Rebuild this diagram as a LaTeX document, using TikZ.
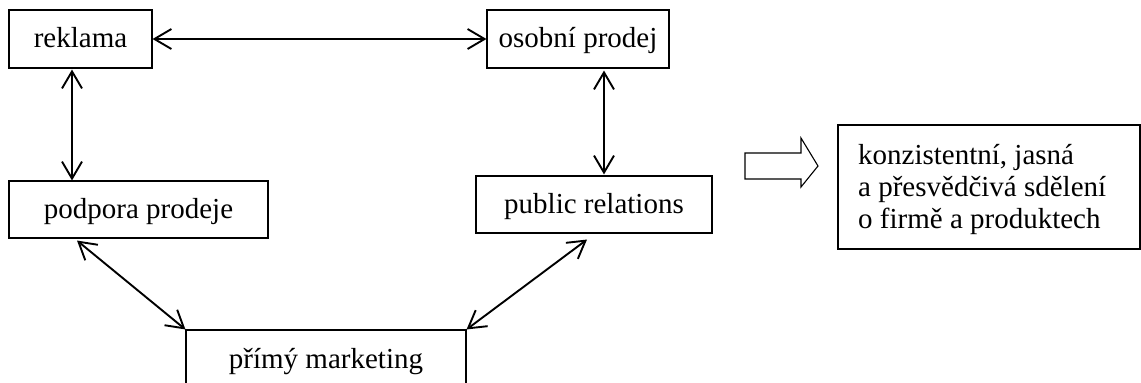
\documentclass[tikz,border=0pt]{standalone}
\usepackage{fontspec}
\setmainfont{Liberation Serif}
\usetikzlibrary{arrows.meta,calc}
\begin{document}
\begin{tikzpicture}[x=1pt,y=-1pt,
  box/.style={draw, line width=1.1pt, inner sep=0pt, text height=20pt, text depth=3pt,
    font=\fontsize{29}{32}\selectfont},
  link/.style={line width=1.9pt, {Straight Barb[length=17pt,width=20pt,line width=1.9pt]}-{Straight Barb[length=17pt,width=20pt,line width=1.9pt]}}]
\useasboundingbox (0,0) rectangle (1141,383);
\clip (0,0) rectangle (1141,383);
\node[box, minimum width=143pt, minimum height=58pt] (rek) at (80.5,39) {reklama};
\node[box, minimum width=182pt, minimum height=58pt] (oso) at (578,39) {osobní prodej};
\node[box, minimum width=259pt, minimum height=57pt] (pod) at (138.5,209.5) {podpora prodeje};
\node[box, minimum width=236pt, minimum height=57pt] (pr) at (594,204.5) {public relations};
\node[box, minimum width=280pt, minimum height=59pt] (pm) at (326,359.5) {přímý marketing};
\node[draw, line width=1.1pt, inner sep=0pt, minimum width=302pt, minimum height=124pt] (res) at (989,187) {};
\node[anchor=north west, inner sep=0pt, align=left, font=\fontsize{29}{32}\selectfont] (restext) at (858,144)
  {konzistentní, jasná\\a přesvědčivá sdělení\\o firmě a produktech};
% hollow arrow
\draw[line width=1.1pt] (745,153) -- (801,153) -- (801,138) -- (818,166) -- (801,187) -- (801,179) -- (745,179) -- cycle;
\coordinate (c1) at (72,0);
\coordinate (c2) at (604,0);
\coordinate (c3) at (77,0);
\coordinate (c4) at (587,0);
\draw[link] (rek.east) -- (oso.west);
\draw[link] ($(rek.south -| c1)+(0,1)$) -- (pod.north -| c1);
\draw[link] ($(oso.south -| c2)+(0,2)$) -- ($(pr.north -| c2)+(0,-1)$);
\draw[link] ($(pod.south -| c3)+(0,2)$) -- (pm.north west);
\draw[link] ($(pr.south -| c4)+(0,6)$) -- (pm.north east);
\end{tikzpicture}
\end{document}
